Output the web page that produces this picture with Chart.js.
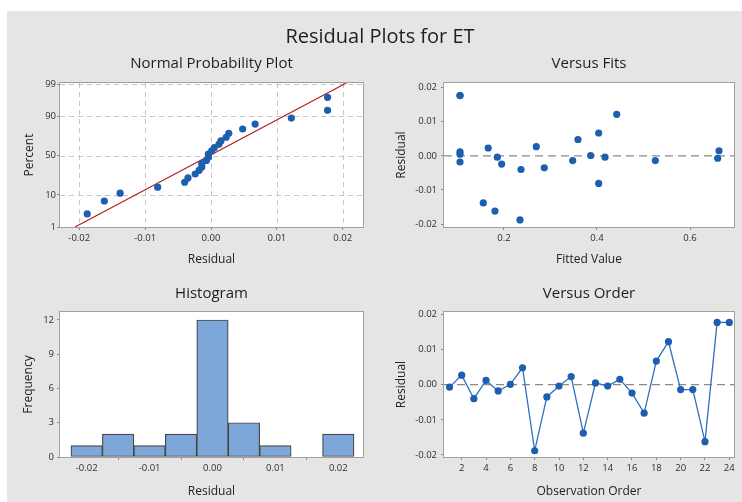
<!DOCTYPE html>
<html>
<head>
<meta charset="utf-8">
<title>Residual Plots for ET</title>
<script src="https://cdn.jsdelivr.net/npm/chart.js@4.4.1/dist/chart.umd.min.js"></script>
<style>
  html, body { margin: 0; padding: 0; background: #ffffff; }
  #wrap { position: relative; width: 742px; height: 502px; overflow: hidden; }
  #sheet { position: absolute; left: 7px; top: 11px; width: 735px; height: 491px; background: #e5e5e5; }
  canvas { position: absolute; left: 0; top: 0; }
</style>
</head>
<body>
<div id="wrap">
  <div id="sheet"></div>
  <canvas id="probPlot" width="742" height="502"></canvas>
  <canvas id="fitsPlot" width="742" height="502"></canvas>
  <canvas id="histPlot" width="742" height="502"></canvas>
  <canvas id="orderPlot" width="742" height="502"></canvas>
</div>
<script>
// ---- data: residuals of the ET model, in observation order ----
const observation = [1, 2, 3, 4, 5, 6, 7, 8, 9, 10, 11, 12, 13, 14, 15, 16, 17, 18, 19, 20, 21, 22, 23, 24];
const residuals = [-0.0007, 0.0027, -0.0040, 0.0012, -0.0018, 0.0001, 0.0048, -0.0188, -0.0035, -0.0004, 0.0023, -0.0138,
                   0.0005, -0.0004, 0.0015, -0.0024, -0.0081, 0.0067, 0.0122, -0.0014, -0.0014, -0.0162, 0.0177, 0.0177];
const fittedValues = [0.6595, 0.2695, 0.2366, 0.1054, 0.1054, 0.3864, 0.3591, 0.2344, 0.2867, 0.1856, 0.1660, 0.1555,
                      0.1054, 0.4172, 0.6624, 0.1950, 0.4036, 0.4036, 0.4423, 0.3477, 0.5254, 0.1806, 0.1054, 0.1054];

// histogram bins (centres) and frequencies
const binCenters = [-0.020, -0.015, -0.010, -0.005, 0.000, 0.005, 0.010, 0.015, 0.020];
const binCounts = [1, 2, 1, 2, 12, 3, 1, 0, 2];

// tick positions
const percentTicks = [1, 10, 50, 90, 99];
const residualTicks = [-0.02, -0.01, 0.00, 0.01, 0.02];
const fitTicks = [0.2, 0.4, 0.6];
const orderTicks = [2, 4, 6, 8, 10, 12, 14, 16, 18, 20, 22, 24];
const frequencyTicks = [0, 3, 6, 9, 12];

// ---- helpers ----
const FONT = "'Open Sans', 'Noto Sans', sans-serif";
const W = 742, H = 502;
const Y_AXIS_W = 50, X_AXIS_H = 42;
const BLUE = '#1d5fae';

// inverse standard normal CDF (Acklam)
function normInv(p) {
  const a = [-3.969683028665376e+01, 2.209460984245205e+02, -2.759285104469687e+02, 1.383577518672690e+02, -3.066479806614716e+01, 2.506628277459239e+00];
  const b = [-5.447609879822406e+01, 1.615858368580409e+02, -1.556989798598866e+02, 6.680131188771972e+01, -1.328068155288572e+01];
  const c = [-7.784894002430293e-03, -3.223964580411365e-01, -2.400758277161838e+00, -2.549732539343734e+00, 4.374664141464968e+00, 2.938163982698783e+00];
  const d = [7.784695709041462e-03, 3.224671290700398e-01, 2.445134137142996e+00, 3.754408661907416e+00];
  const pl = 0.02425, ph = 1 - pl;
  let q, r;
  if (p < pl) {
    q = Math.sqrt(-2 * Math.log(p));
    return (((((c[0]*q+c[1])*q+c[2])*q+c[3])*q+c[4])*q+c[5]) / ((((d[0]*q+d[1])*q+d[2])*q+d[3])*q+1);
  }
  if (p > ph) {
    q = Math.sqrt(-2 * Math.log(1 - p));
    return -(((((c[0]*q+c[1])*q+c[2])*q+c[3])*q+c[4])*q+c[5]) / ((((d[0]*q+d[1])*q+d[2])*q+d[3])*q+1);
  }
  q = p - 0.5; r = q * q;
  return (((((a[0]*r+a[1])*r+a[2])*r+a[3])*r+a[4])*r+a[5])*q / (((((b[0]*r+b[1])*r+b[2])*r+b[3])*r+b[4])*r+1);
}

function fmt2(v) { return Number(v).toFixed(2); }

function xAxis(o) {
  return {
    type: 'linear', min: o.min, max: o.max, offset: false,
    afterFit(s) { s.height = X_AXIS_H; },
    afterBuildTicks(s) { s.ticks = o.ticks.map(v => ({ value: v })); },
    ticks: { autoSkip: false, maxRotation: 0, padding: 3, color: '#2e2e2e',
             font: { family: FONT, size: 9.5 }, callback: o.fmt },
    grid: { drawOnChartArea: false, drawTicks: true, tickLength: 3, color: '#8a8a8a' },
    border: { display: false },
    title: { display: true, text: o.title, color: '#222222', font: { family: FONT, size: 12 },
             padding: { top: 0, bottom: o.titleY !== undefined ? o.titleY : 2 } }
  };
}

function yAxis(o) {
  return {
    type: 'linear', min: o.min, max: o.max,
    afterFit(s) { s.width = Y_AXIS_W; },
    afterBuildTicks(s) { s.ticks = o.ticks.map(v => ({ value: v })); },
    ticks: { autoSkip: false, padding: o.tickPad, color: '#2e2e2e',
             font: { family: FONT, size: 9.5 }, callback: o.fmt },
    grid: { drawOnChartArea: false, drawTicks: true, tickLength: 3, color: '#8a8a8a' },
    border: { display: false },
    title: { display: true, text: o.title, color: '#222222', font: { family: FONT, size: 12 },
             padding: { top: o.titlePad, bottom: 0 } }
  };
}

function padFor(area) {
  return { left: area.l - Y_AXIS_W, right: W - area.r, top: area.t, bottom: H - area.b - X_AXIS_H };
}

// plot frame, dashed guide lines and panel titles
const panelDecor = {
  id: 'panelDecor',
  beforeDraw(chart, args, opts) {
    const { ctx, chartArea: a, scales } = chart;
    ctx.save();
    ctx.fillStyle = '#ffffff';
    ctx.fillRect(a.left, a.top, a.right - a.left, a.bottom - a.top);
    ctx.lineWidth = 1;
    if (opts.gridX || opts.gridY) {
      ctx.strokeStyle = '#c6c6c6';
      ctx.setLineDash([5, 4]);
      (opts.gridX || []).forEach(v => {
        const x = Math.round(scales.x.getPixelForValue(v)) + 0.5;
        ctx.beginPath(); ctx.moveTo(x, a.top); ctx.lineTo(x, a.bottom); ctx.stroke();
      });
      (opts.gridY || []).forEach(v => {
        const y = Math.round(scales.y.getPixelForValue(v)) + 0.5;
        ctx.beginPath(); ctx.moveTo(a.left, y); ctx.lineTo(a.right, y); ctx.stroke();
      });
    }
    if (opts.zeroLine) {
      ctx.strokeStyle = '#8a8a8a';
      ctx.lineWidth = 1.4;
      ctx.setLineDash([8, 5]);
      const y = scales.y.getPixelForValue(0);
      ctx.beginPath(); ctx.moveTo(a.left, y); ctx.lineTo(a.right, y); ctx.stroke();
    }
    ctx.restore();
  },
  afterDraw(chart, args, opts) {
    const { ctx, chartArea: a } = chart;
    ctx.save();
    ctx.strokeStyle = '#a0a0a0';
    ctx.lineWidth = 1;
    ctx.strokeRect(Math.round(a.left) - 0.5, Math.round(a.top) - 0.5, Math.round(a.right - a.left) + 1, Math.round(a.bottom - a.top) + 1);
    ctx.fillStyle = '#1e1e1e';
    ctx.textAlign = 'center';
    ctx.textBaseline = 'middle';
    if (opts.title) {
      ctx.font = '15px ' + FONT;
      ctx.fillText(opts.title, (a.left + a.right) / 2, opts.titleY);
    }
    if (opts.mainTitle) {
      ctx.font = '20px ' + FONT;
      ctx.fillText(opts.mainTitle, opts.mainX, opts.mainY);
    }
    ctx.restore();
  }
};
Chart.register(panelDecor);

const common = { responsive: false, animation: false, events: [], devicePixelRatio: 1 };
const noLegend = { legend: { display: false }, tooltip: { enabled: false } };

// ---- Normal Probability Plot ----
const sortedRes = residuals.slice().sort((p, q) => p - q);
const n = sortedRes.length;
const probPoints = sortedRes.map((r, i) => ({ x: r, y: normInv((i + 1 - 0.3) / (n + 0.4)) }));
const mean = residuals.reduce((s, v) => s + v, 0) / n;
const sd = Math.sqrt(residuals.reduce((s, v) => s + (v - mean) * (v - mean), 0) / (n - 1));
const zLow = normInv(percentTicks[0] / 100);
const zHigh = 2.368;
const fitLine = [{ x: mean + sd * zLow, y: zLow }, { x: mean + sd * zHigh, y: zHigh }];

const areaProb = { l: 60, r: 363, t: 83, b: 227 };
new Chart(document.getElementById('probPlot'), {
  type: 'scatter',
  data: { datasets: [
    { data: probPoints, pointRadius: 3.6, pointBackgroundColor: BLUE, pointBorderWidth: 0, order: 0 },
    { data: fitLine, showLine: true, borderColor: '#b3221f', borderWidth: 1.2, pointRadius: 0, order: 1 }
  ] },
  options: Object.assign({}, common, {
    layout: { padding: padFor(areaProb) },
    scales: {
      x: xAxis({ min: -0.02293, max: 0.02308, ticks: residualTicks, fmt: fmt2, title: 'Residual', titleY: 1.8 }),
      y: yAxis({ min: zLow, max: zHigh, ticks: percentTicks.map(p => normInv(p / 100)),
                 fmt: (v, i) => String(percentTicks[i]), title: 'Percent', titlePad: 12.8, tickPad: 1 })
    },
    plugins: Object.assign({}, noLegend, { panelDecor: {
      title: 'Normal Probability Plot', titleY: 64,
      gridX: residualTicks, gridY: percentTicks.map(p => normInv(p / 100)),
      mainTitle: 'Residual Plots for ET', mainX: 380, mainY: 37
    } })
  })
});

// ---- Versus Fits ----
const areaFits = { l: 444, r: 734, t: 83, b: 227 };
new Chart(document.getElementById('fitsPlot'), {
  type: 'scatter',
  data: { datasets: [
    { data: fittedValues.map((f, i) => ({ x: f, y: residuals[i] })), pointRadius: 3.6,
      pointBackgroundColor: BLUE, pointBorderWidth: 0 }
  ] },
  options: Object.assign({}, common, {
    layout: { padding: padFor(areaFits) },
    scales: {
      x: xAxis({ min: 0.071, max: 0.6946, ticks: fitTicks, fmt: v => Number(v).toFixed(1), title: 'Fitted Value', titleY: 1.8 }),
      y: yAxis({ min: -0.02088, max: 0.02138, ticks: residualTicks, fmt: fmt2, title: 'Residual', titlePad: 0.5, tickPad: 4 })
    },
    plugins: Object.assign({}, noLegend, { panelDecor: { title: 'Versus Fits', titleY: 64, zeroLine: true } })
  })
});

// ---- Histogram ----
const areaHist = { l: 60, r: 363, t: 312, b: 457 };
new Chart(document.getElementById('histPlot'), {
  type: 'bar',
  data: { datasets: [
    { data: binCenters.map((c, i) => ({ x: c, y: binCounts[i] })), backgroundColor: '#7ea7d9',
      borderColor: '#474747', borderWidth: 1.2, borderSkipped: false,
      barPercentage: 1, categoryPercentage: 1 }
  ] },
  options: Object.assign({}, common, {
    layout: { padding: padFor(areaHist) },
    scales: {
      x: xAxis({ min: -0.02424, max: 0.02393, ticks: residualTicks, fmt: fmt2, title: 'Residual', titleY: 0 }),
      y: yAxis({ min: 0, max: 12.7, ticks: frequencyTicks, fmt: v => String(v), title: 'Frequency', titlePad: 11.8, tickPad: 3 })
    },
    plugins: Object.assign({}, noLegend, { panelDecor: { title: 'Histogram', titleY: 294 } })
  })
});

// ---- Versus Order ----
const areaOrder = { l: 444, r: 734, t: 312, b: 457 };
new Chart(document.getElementById('orderPlot'), {
  type: 'scatter',
  data: { datasets: [
    { data: observation.map((o, i) => ({ x: o, y: residuals[i] })), showLine: true,
      borderColor: '#2f70bd', borderWidth: 1.3, pointRadius: 3.6,
      pointBackgroundColor: BLUE, pointBorderWidth: 0 }
  ] },
  options: Object.assign({}, common, {
    layout: { padding: padFor(areaOrder) },
    scales: {
      x: xAxis({ min: 0.545, max: 24.386, ticks: orderTicks, fmt: v => String(v), title: 'Observation Order', titleY: 0 }),
      y: yAxis({ min: -0.02057, max: 0.02065, ticks: residualTicks, fmt: fmt2, title: 'Residual', titlePad: 0.5, tickPad: 4 })
    },
    plugins: Object.assign({}, noLegend, { panelDecor: { title: 'Versus Order', titleY: 294, zeroLine: true } })
  })
});
</script>
</body>
</html>
